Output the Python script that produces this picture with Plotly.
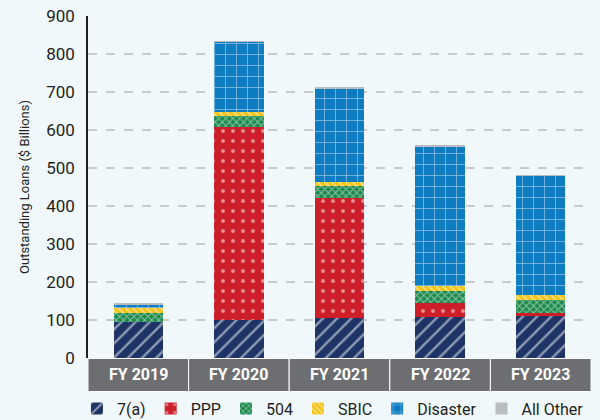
import plotly.graph_objects as go

categories = ["FY 2019", "FY 2020", "FY 2021", "FY 2022", "FY 2023"]
loans_7a = [94, 100, 104, 109, 111]
ppp = [0, 508, 316, 36, 7]
loans_504 = [25, 29, 32, 32, 35]
sbic = [13, 10, 11, 12, 14]
disaster = [9, 185, 247, 367, 312]
all_other = [2, 2, 1, 2, 2]
y_ticks = [0, 100, 200, 300, 400, 500, 600, 700, 800, 900]

BG = "#f1f8fc"
FONT = "Roboto, Liberation Sans, sans-serif"

series = [
    ("7(a)", loans_7a, "#1f3466", dict(shape="/", size=10, solidity=0.24)),
    ("PPP", ppp, "#cc1f29", dict(shape=".", size=10, solidity=0.12)),
    ("504", loans_504, "#1d8a4e", dict(shape="x", size=5, solidity=0.35)),
    ("SBIC", sbic, "#f6c419", dict(shape="\\", size=5, solidity=0.3)),
    ("Disaster", disaster, "#0e7cc1", dict(shape="+", size=11, solidity=0.14)),
    ("All Other", all_other, "#b9bcc0", None),
]

fig = go.Figure()
idx = list(range(len(categories)))
for name, vals, color, pat in series:
    marker = dict(color=color, line=dict(width=0))
    if pat:
        marker["pattern"] = dict(fgcolor="white", bgcolor=color, fillmode="overlay", **pat)
    fig.add_trace(go.Bar(name=name, x=idx, y=vals, marker=marker, width=0.49))

# category boxes under axis
for i, c in enumerate(categories):
    fig.add_shape(type="rect", xref="x", yref="paper", x0=i - 0.5, x1=i + 0.5,
                  y0=-0.098, y1=-0.0015, fillcolor="#6d6e71",
                  line=dict(color="white", width=1), layer="above")
    fig.add_annotation(x=i, xref="x", yref="paper", y=-0.049, yanchor="middle",
                       xanchor="center", text=f"<b>{c}</b>",
                       showarrow=False, font=dict(color="white", size=16, family=FONT))

fig.update_layout(
    width=600, height=420, barmode="stack",
    margin=dict(l=88, r=9, t=16, b=62, autoexpand=False),
    paper_bgcolor=BG, plot_bgcolor=BG,
    font=dict(family=FONT, color="#231f20"),
    legend=dict(orientation="h", x=-0.022, xanchor="left", xref="paper",
                y=-0.148, yanchor="middle", yref="paper",
                font=dict(size=16, color="#231f20"), bgcolor="rgba(0,0,0,0)",
                traceorder="normal", itemwidth=30, entrywidth=0),
    xaxis=dict(range=[-0.5, 4.5], showticklabels=False, showgrid=False, zeroline=False,
               showline=False, fixedrange=True),
    yaxis=dict(range=[0, 900], tickvals=y_ticks, showgrid=True, gridcolor="#c9cacc",
               griddash="dash", gridwidth=1.5, zeroline=False, showline=True,
               linecolor="#231f20", linewidth=1.5, ticks="", ticklabelstandoff=8,
               tickfont=dict(size=17, color="#231f20", family=FONT),
               title=dict(text="Outstanding Loans ($ Billions)", standoff=14,
                          font=dict(size=13, color="#231f20", family=FONT))),
)

fig.write_html("out.html")
